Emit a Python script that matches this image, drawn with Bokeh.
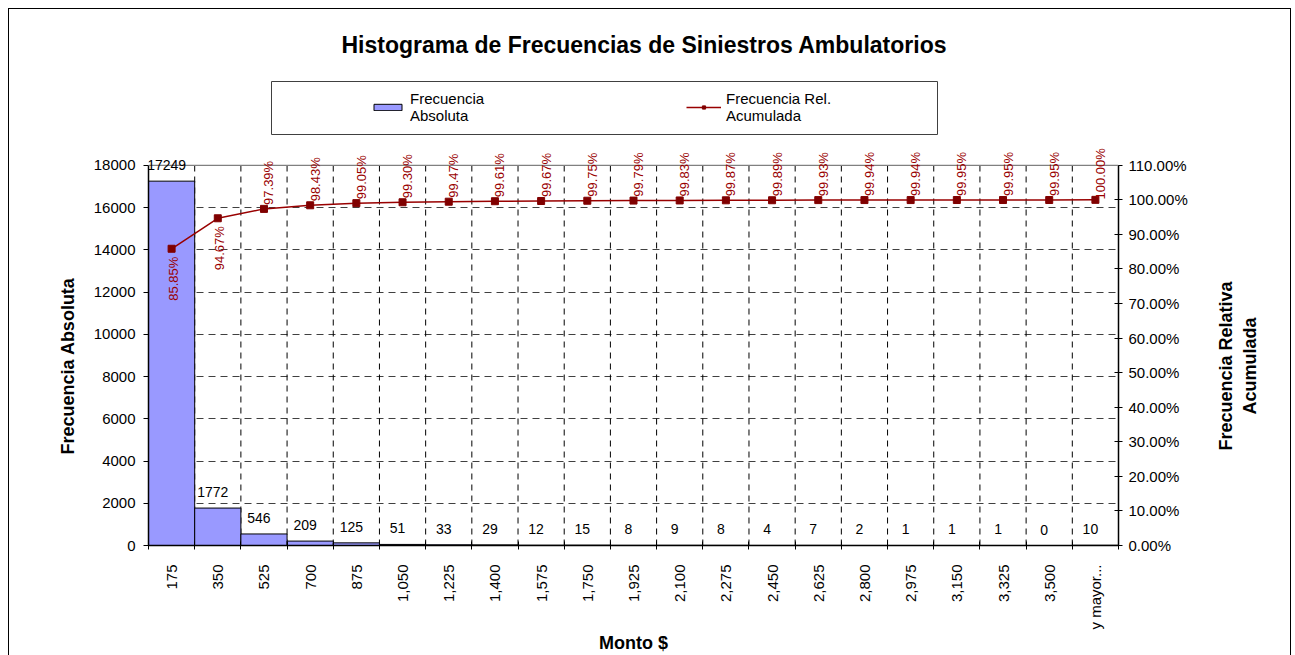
import math
import numpy as np
from bokeh.plotting import figure
from bokeh.core.properties import value
from bokeh.layouts import row
from bokeh.models import (Range1d, LinearAxis, FixedTicker, PrintfTickFormatter, Title, Label,
                          ColumnDataSource, LabelSet, Legend, LegendItem, BoxAnnotation, Span)
from bokeh.embed import file_html
from bokeh.resources import INLINE

# ---------------- data ----------------
categories = ["175", "350", "525", "700", "875", "1,050", "1,225", "1,400", "1,575",
              "1,750", "1,925", "2,100", "2,275", "2,450", "2,625", "2,800", "2,975",
              "3,150", "3,325", "3,500", "y mayor..."]
frecuencia_absoluta = [17249, 1772, 546, 209, 125, 51, 33, 29, 12, 15, 8, 9, 8, 4, 7,
                       2, 1, 1, 1, 0, 10]
frecuencia_rel_acumulada = [85.85, 94.67, 97.39, 98.43, 99.05, 99.30, 99.47, 99.61, 99.67,
                            99.75, 99.79, 99.83, 99.87, 99.89, 99.93, 99.94, 99.94, 99.95,
                            99.95, 99.95, 100.00]
y_ticks_abs = [0, 2000, 4000, 6000, 8000, 10000, 12000, 14000, 16000, 18000]
y_ticks_rel = [0, 10, 20, 30, 40, 50, 60, 70, 80, 90, 100, 110]
n_labels_below = 2

title_text = "Histograma de Frecuencias de Siniestros Ambulatorios"
left_title = "Frecuencia Absoluta"
right_title = "Frecuencia Relativa\nAcumulada"
x_title = "Monto $"
FONT = "Liberation Sans"

# ---------------- layout (pixels) ----------------
W, H = 1295, 655
W_MAIN = 1195                                          # main figure; the rest holds the right title
PLOT_L, PLOT_R, PLOT_T, PLOT_B = 148, 1118, 165, 546   # plot area of the axes
FRAME_T = 65                                          # frame extended upwards for labels/legend
ext = (PLOT_B - FRAME_T) / (PLOT_B - PLOT_T)

n = len(categories)
centers = np.arange(n) + 0.5
bounds = list(np.arange(n + 1).astype(float))

src = ColumnDataSource(dict(
    x=centers,
    count=frecuencia_absoluta,
    count_txt=[str(v) for v in frecuencia_absoluta],
    pct=frecuencia_rel_acumulada,
))
src_above = ColumnDataSource(dict(
    x=centers[n_labels_below:],
    pct=frecuencia_rel_acumulada[n_labels_below:],
    pct_txt=["%.2f%%" % v for v in frecuencia_rel_acumulada[n_labels_below:]],
))
src_below = ColumnDataSource(dict(
    x=centers[:n_labels_below],
    pct=frecuencia_rel_acumulada[:n_labels_below],
    pct_txt=["%.2f%%" % v for v in frecuencia_rel_acumulada[:n_labels_below]],
))
src_vgrid = ColumnDataSource(dict(x=bounds[1:-1],
                                  y0=[y_ticks_abs[0]] * (n - 1),
                                  y1=[y_ticks_abs[-1]] * (n - 1)))

p = figure(width=W_MAIN, height=H, output_backend="svg", toolbar_location=None,
           x_range=Range1d(0, n),
           y_range=Range1d(y_ticks_abs[0], y_ticks_abs[-1] * ext),
           min_border_left=PLOT_L, min_border_right=W_MAIN - PLOT_R, min_border_top=FRAME_T,
           min_border_bottom=H - PLOT_B)
p.extra_y_ranges = {"pct": Range1d(y_ticks_rel[0], y_ticks_rel[-1] * ext)}
p.background_fill_color = "white"
p.border_fill_color = None
p.outline_line_color = None
p.styles = {
    "background-image": "linear-gradient(#000,#000), linear-gradient(#000,#000)",
    "background-size": "1px 660px, %dpx 1px" % (W_MAIN - 8),
    "background-position": "8px 8px, 8px 8px",
    "background-repeat": "no-repeat",
}

# title
p.title.text = title_text
p.title.text_font = FONT
p.title.text_font_size = "23px"
p.title.text_font_style = "bold"
p.title.text_color = "black"
p.title.align = "left"
p.title.offset = 193
p.title.standoff = 15

# grids
p.xgrid.visible = False
p.segment(x0="x", y0="y0", x1="x", y1="y1", source=src_vgrid,
          line_color="black", line_dash="6 5", line_width=1)
p.ygrid.ticker = FixedTicker(ticks=y_ticks_abs)
p.ygrid.grid_line_color = "#404040"
p.ygrid.grid_line_dash = "7 5"
p.ygrid.grid_line_width = 1
p.add_layout(Span(location=y_ticks_abs[-1], dimension="width",
                  line_color="#808080", line_width=1.2))

# x axis
xa = p.xaxis[0]
xa.ticker = FixedTicker(ticks=list(centers), minor_ticks=bounds)
xa.major_label_overrides = {float(c): lab for c, lab in zip(centers, categories)}
xa.major_label_orientation = math.pi / 2
xa.major_tick_in = 0
xa.major_tick_out = 0
xa.major_tick_line_color = None
xa.minor_tick_in = 4
xa.minor_tick_out = 4
xa.minor_tick_line_color = "black"
xa.axis_line_color = "black"
xa.axis_line_width = 1.5
xa.major_label_standoff = 15
xa.major_label_text_font = FONT
xa.major_label_text_font_size = "15px"
xa.major_label_text_color = "black"
xa.axis_label = x_title
xa.axis_label_text_font = FONT
xa.axis_label_text_font_size = "18px"
xa.axis_label_text_font_style = "bold"
xa.axis_label_text_color = "black"
xa.axis_label_standoff = 0

# left axis
ya = p.yaxis[0]
ya.ticker = FixedTicker(ticks=y_ticks_abs)
ya.bounds = (y_ticks_abs[0], y_ticks_abs[-1])
ya.major_tick_in = 0
ya.major_tick_out = 5
ya.minor_tick_line_color = None
ya.axis_line_color = "black"
ya.axis_line_width = 1.5
ya.major_label_standoff = 8
ya.major_label_text_font = FONT
ya.major_label_text_font_size = "15px"
ya.major_label_text_color = "black"

# left axis title (placed along the plot area, not the extended frame)
lt = Title(text=left_title, align="left", offset=91, standoff=26,
           text_font=FONT, text_font_size="18px", text_font_style="bold",
           text_color="black")
p.add_layout(lt, "left")

# right axis
ra = LinearAxis(y_range_name="pct", ticker=FixedTicker(ticks=y_ticks_rel),
                formatter=PrintfTickFormatter(format="%.2f%%"),
                bounds=(y_ticks_rel[0], y_ticks_rel[-1]))
ra.major_tick_in = 4
ra.major_tick_out = 4
ra.minor_tick_line_color = None
ra.axis_line_color = "black"
ra.axis_line_width = 1.5
ra.major_label_standoff = 6
ra.major_label_text_font = FONT
ra.major_label_text_font_size = "15px"
ra.major_label_text_color = "black"
p.add_layout(ra, "right")

# glyphs
bars = p.vbar(x="x", top="count", bottom=0, width=1, source=src,
              fill_color="#9999FF", line_color="black", line_width=1)
line = p.line(x="x", y="pct", source=src, y_range_name="pct",
              line_color="#990000", line_width=1.5)
marks = p.scatter(x="x", y="pct", source=src, y_range_name="pct", marker="square",
                  size=7, fill_color="#800000", line_color="#800000")

# labels
count_labels = LabelSet(x="x", y="count", text="count_txt", source=src,
                        text_align="center", text_baseline="middle", x_offset=-5,
                        y_offset=16, text_font=value(FONT), text_font_size=value("14px"),
                        text_color="black")
p.add_layout(count_labels)
pct_above = LabelSet(x="x", y="pct", text="pct_txt", source=src_above, y_range_name="pct",
                     angle=math.pi / 2, text_align="center", text_baseline="middle",
                     x_offset=5, y_offset=26, text_font=value(FONT),
                     text_font_size=value("13px"), text_color="#990000")
pct_below = LabelSet(x="x", y="pct", text="pct_txt", source=src_below, y_range_name="pct",
                     angle=math.pi / 2, text_align="center", text_baseline="middle",
                     x_offset=2, y_offset=-30, text_font=value(FONT),
                     text_font_size=value("13px"), text_color="#990000")
p.add_layout(pct_above)
p.add_layout(pct_below)

# legend
legend = Legend(items=[LegendItem(label="Frecuencia\nAbsoluta", renderers=[bars]),
                       LegendItem(label="Frecuencia Rel.\nAcumulada", renderers=[line, marks])],
                orientation="horizontal", location=(370 - PLOT_L, PLOT_B - 125),
                padding=0, spacing=0, margin=0, glyph_width=35, glyph_height=8,
                label_width=276, label_standoff=5, border_line_alpha=0,
                background_fill_alpha=0, label_text_font=FONT,
                label_text_font_size="15px", label_text_color="black",
                label_text_line_height=1.35)
p.add_layout(legend, "center")

legend_box = BoxAnnotation(left=271, right=937, top=81, bottom=134,
                           left_units="canvas", right_units="canvas",
                           top_units="canvas", bottom_units="canvas",
                           fill_alpha=0, line_color="#404040", line_alpha=1,
                           line_width=1)
p.add_layout(legend_box)

# ---------------- right strip holding the right axis title ----------------
W_SIDE = W - W_MAIN
q = figure(width=W_SIDE, height=H, output_backend="svg", toolbar_location=None,
           x_range=Range1d(0, W_SIDE), y_range=Range1d(0, H),
           min_border=0, min_border_left=0, min_border_right=0,
           min_border_top=0, min_border_bottom=0)
q.axis.visible = False
q.grid.visible = False
q.outline_line_color = None
q.background_fill_color = None
q.border_fill_color = None
q.styles = {
    "background-image": "linear-gradient(#000,#000), linear-gradient(#000,#000)",
    "background-size": "%dpx 1px, 1px 660px" % (W_SIDE - 4),
    "background-position": "0px 8px, %dpx 8px" % (W_SIDE - 5),
    "background-repeat": "no-repeat",
}
q.add_layout(Label(x=1237 - W_MAIN, y=H - 410, text=right_title, angle=math.pi / 2,
                   text_align="center", text_baseline="middle", text_font=FONT,
                   text_font_size="18px", text_font_style="bold", text_color="black"))

layout = row(p, q, spacing=0)
open("out.html", "w").write(file_html(layout, INLINE))
